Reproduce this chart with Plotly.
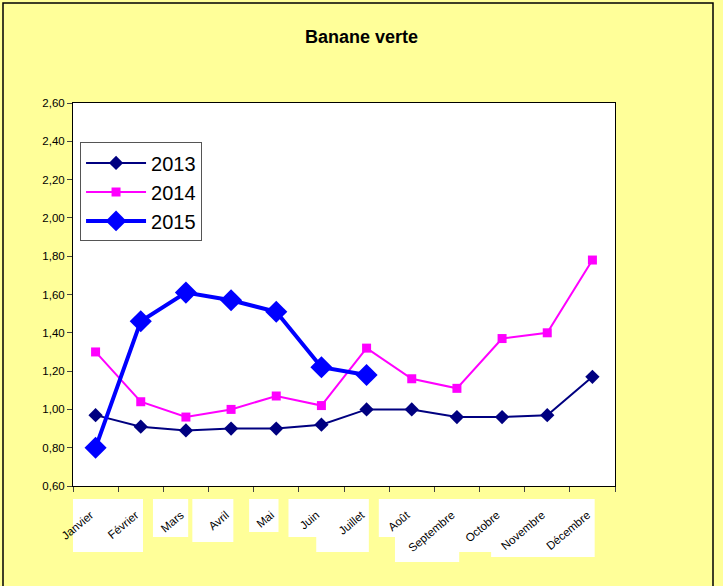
import plotly.graph_objects as go

months = ["Janvier", "Février", "Mars", "Avril", "Mai", "Juin", "Juillet",
          "Août", "Septembre", "Octobre", "Novembre", "Décembre"]
v2013 = [0.97, 0.91, 0.89, 0.90, 0.90, 0.92, 1.00, 1.00, 0.96, 0.96, 0.97, 1.17]
v2014 = [1.30, 1.04, 0.96, 1.00, 1.07, 1.02, 1.32, 1.16, 1.11, 1.37, 1.40, 1.78]
v2015 = [0.80, 1.46, 1.61, 1.57, 1.51, 1.22, 1.18]
y_ticks = [0.6, 0.8, 1.0, 1.2, 1.4, 1.6, 1.8, 2.0, 2.2, 2.4, 2.6]

fig = go.Figure()
fig.add_trace(go.Scatter(x=months, y=v2013, name="2013", mode="lines+markers",
                         line=dict(color="#000080", width=2),
                         marker=dict(symbol="diamond", size=11, color="#000080")))
fig.add_trace(go.Scatter(x=months, y=v2014, name="2014", mode="lines+markers",
                         line=dict(color="#FF00FF", width=2),
                         marker=dict(symbol="square", size=9, color="#FF00FF")))
fig.add_trace(go.Scatter(x=months[:len(v2015)], y=v2015, name="2015", mode="lines+markers",
                         line=dict(color="#0000FF", width=4),
                         marker=dict(symbol="diamond", size=17, color="#0000FF")))

PH = 383.0
PW = 542.0 / 12
shapes = []
for i, m in enumerate(months):
    h = (18 + 5 * len(m)) / PH
    w = (12 + 5.8 * len(m)) / PW
    shapes.append(dict(type="rect", xref="x", yref="paper", layer="below",
                       x0=i + 0.05 - w, x1=i + 0.05, y0=-13 / PH, y1=-13 / PH - h,
                       fillcolor="white", line=dict(width=0)))
# outer border
shapes.append(dict(type="rect", xref="paper", yref="paper",
                   x0=-70 / 542, x1=640 / 542, y0=-110 / PH, y1=1 + 100 / PH,
                   line=dict(color="black", width=1.5), fillcolor="rgba(0,0,0,0)"))

fig.update_layout(
    width=723, height=586,
    paper_bgcolor="#FFFF99", plot_bgcolor="white",
    margin=dict(l=73, r=108, t=103, b=100),
    title=dict(text="<b>Banane verte</b>", x=0.5, xanchor="center",
               y=1 - 37 / 586, yanchor="middle",
               font=dict(family="Arial, Liberation Sans", size=18, color="black")),
    font=dict(family="Arial, Liberation Sans", color="black"),
    separators=",.",
    showlegend=True,
    legend=dict(x=0.013, y=0.897, xanchor="left", yanchor="top",
                bgcolor="white", bordercolor="#555555", borderwidth=1,
                font=dict(size=20), tracegroupgap=0, itemwidth=60),
    shapes=shapes,
)
fig.update_xaxes(type="category", range=[-0.5, len(months) - 0.5],
                 showline=True, linecolor="black", linewidth=1,
                 mirror=True, ticks="outside", tickson="boundaries", ticklen=5,
                 tickangle=-40, tickfont=dict(size=11.5), ticklabelstandoff=17,
                 ticklabelshift=-5, showgrid=False)
fig.update_yaxes(range=[0.6, 2.6], tickvals=y_ticks, tickformat=".2f",
                 showline=True, linecolor="black", linewidth=1, mirror=True,
                 ticks="outside", ticklen=5, tickfont=dict(size=11.5),
                 showgrid=False, zeroline=False)

fig.write_html("out.html", config={"displayModeBar": False},
               post_script="document.body.style.margin='0';")
